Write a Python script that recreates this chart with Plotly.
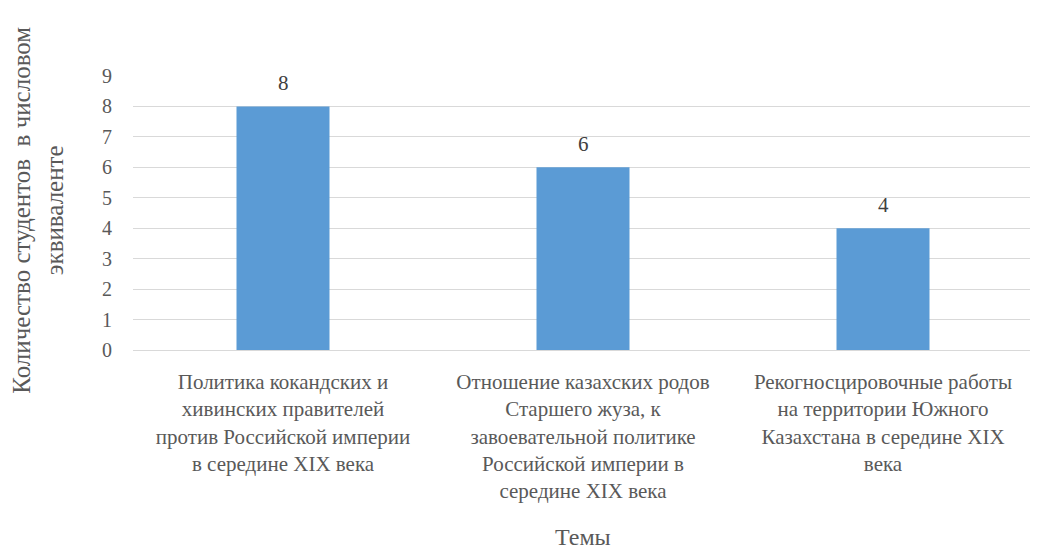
import plotly.graph_objects as go

categories = [
    "Политика кокандских и<br>хивинских правителей<br>против Российской империи<br>в середине XIX века",
    "Отношение казахских родов<br>Старшего жуза, к<br>завоевательной политике<br>Российской империи в<br>середине XIX века",
    "Рекогносцировочные работы<br>на территории Южного<br>Казахстана в середине XIX<br>века",
]
values = [8, 6, 4]
y_ticks = [0, 1, 2, 3, 4, 5, 6, 7, 8, 9]

FONT = "Liberation Serif, Times New Roman, serif"
GREY = "#595959"

xs = list(range(len(categories)))

fig = go.Figure()
fig.add_trace(go.Bar(
    x=xs,
    y=values,
    marker=dict(color="#5B9BD5", line=dict(width=0)),
    width=0.31,
))

annotations = [
    dict(x=x, y=v, text=str(v), xref="x", yref="y", showarrow=False,
         yanchor="middle", yshift=23,
         font=dict(family=FONT, size=21, color="#404040"))
    for x, v in zip(xs, values)
]
annotations += [
    dict(text="Количество студентов  в числовом<br>эквиваленте",
         xref="paper", yref="paper", x=-0.105, y=0.51,
         xanchor="center", yanchor="middle",
         textangle=-90, showarrow=False,
         font=dict(family=FONT, size=25, color=GREY)),
    dict(text="Темы", xref="paper", yref="paper",
         x=0.5, y=-0.682, xanchor="center", yanchor="middle",
         showarrow=False,
         font=dict(family=FONT, size=24, color=GREY)),
]

fig.update_layout(
    width=1038, height=549,
    margin=dict(l=125, r=13, t=68, b=207),
    plot_bgcolor="white", paper_bgcolor="white",
    showlegend=False,
    font=dict(family=FONT, color=GREY),
    xaxis=dict(
        tickmode="array",
        tickvals=xs,
        ticktext=categories,
        range=[-0.5, 2.5],
        showgrid=False, zeroline=False, showline=False,
        ticks="",
        tickfont=dict(family=FONT, size=21, color=GREY),
        ticklabelstandoff=17,
        automargin=False,
    ),
    yaxis=dict(
        range=[0, 9],
        tickvals=y_ticks,
        showgrid=True, gridcolor="#D9D9D9", gridwidth=1,
        zeroline=True, zerolinecolor="#D9D9D9", zerolinewidth=1,
        showline=False, ticks="",
        tickfont=dict(family=FONT, size=20, color=GREY),
        ticklabelstandoff=20,
        automargin=False,
    ),
    annotations=annotations,
)

fig.write_html("out.html")
